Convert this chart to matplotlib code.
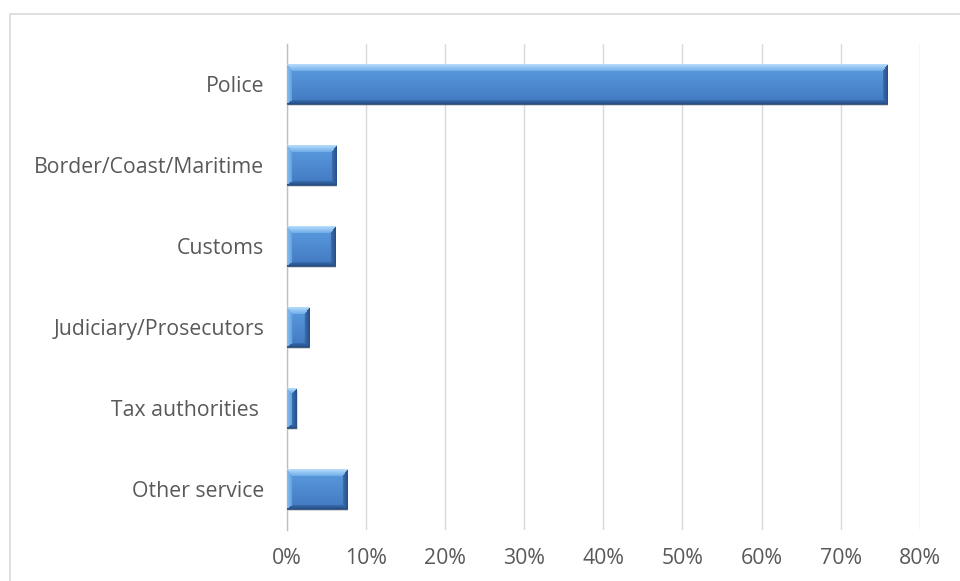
import numpy as np
import matplotlib
matplotlib.use('Agg')
import matplotlib.pyplot as plt
import matplotlib.transforms as mtransforms
from matplotlib.patches import Rectangle
from matplotlib.ticker import FuncFormatter

plt.rcParams['font.family'] = ['Open Sans', 'DejaVu Sans']

# shares of respondents by service (top to bottom)
services = ['Police', 'Border/Coast/Maritime', 'Customs',
            'Judiciary/Prosecutors', 'Tax authorities ', 'Other service']
shares = [0.758, 0.062, 0.061, 0.028, 0.012, 0.076]
xticks = [0, 0.1, 0.2, 0.3, 0.4, 0.5, 0.6, 0.7, 0.8]

W, H, DPI = 960, 581, 100
fig = plt.figure(figsize=(W / DPI, H / DPI), dpi=DPI)
ax = fig.add_axes([286.5 / W, 1 - 529.5 / H, (920 - 286.5) / W, (529.5 - 43.5) / H])

# light chart border (runs off the image on the right and bottom)
fig.patches.append(Rectangle((10 / W, -0.05), 1.2, 1 - 14 / H + 0.05,
                             transform=fig.transFigure, fill=False,
                             edgecolor='#d9d9d9', linewidth=1.2, zorder=0))

ypos = np.arange(len(services))[::-1]
bar_h = 0.49


def hexrgb(h):
    return np.array([int(h[i:i + 2], 16) for i in (1, 3, 5)]) / 255


def bevel_image(wpx, hpx):
    wpx = max(int(round(wpx)), 2)
    hpx = max(int(round(hpx)), 2)
    ii, jj = np.mgrid[0:hpx, 0:wpx]
    sizes = [7.0, 3.5, 5.0, 5.0]  # top, bottom, left, right bevel widths
    sizes = [min(s, wpx / 2.0) for s in sizes]
    dists = [ii, hpx - 1 - ii, jj, wpx - 1 - jj]
    rel = np.stack([d / s for d, s in zip(dists, sizes)])
    t = ii / max(hpx - 1, 1)
    c_top = hexrgb('#5c9ce0')
    c_bot = hexrgb('#4279c0')
    img = c_top * (1 - t)[..., None] + c_bot * t[..., None]
    which = rel.argmin(axis=0)
    rmin = rel.min(axis=0)
    edge = rmin < 1
    f = np.clip(rmin, 0, 1)[..., None]
    outer = [hexrgb('#b3dbfa'), hexrgb('#27508a'), hexrgb('#86bdee'), hexrgb('#29508a')]
    inner = [hexrgb('#6aa9e6'), hexrgb('#3a6dae'), hexrgb('#5c9ce0'), hexrgb('#3f72b4')]
    for k in range(4):
        m = edge & (which == k)
        mix = outer[k] * (1 - f) + inner[k] * f
        img[m] = mix[m]
    return img


ax_w_px = 920 - 286.5
ax_h_px = 529.5 - 43.5
px_per_x = ax_w_px / 0.8
px_per_y = ax_h_px / len(services)

shadow_tr = mtransforms.offset_copy(ax.transData, fig=fig, x=1.5, y=-2.5, units='dots')
for y, v in zip(ypos, shares):
    ax.barh(y, v, height=bar_h, color='#7f7f7f', alpha=0.3, linewidth=0,
            transform=shadow_tr, zorder=2)
    rect = ax.barh(y, v, height=bar_h, color='#4a86cc', edgecolor='#1f3b63',
                   linewidth=0.5, zorder=3)[0]
    img = bevel_image(v * px_per_x, bar_h * px_per_y)
    im = ax.imshow(img, extent=(0, v, y - bar_h / 2, y + bar_h / 2),
                   aspect='auto', origin='upper', zorder=3.5, interpolation='bilinear')
    im.set_clip_path(rect)

ax.set_xlim(0, 0.8)
ax.set_ylim(-0.5, len(services) - 0.5)
ax.set_yticks(ypos)
ax.set_yticklabels(services)
ax.set_xticks(xticks)
ax.xaxis.set_major_formatter(FuncFormatter(lambda v, p: f'{v * 100:.0f}%'))

ax.grid(axis='x', color='#d9d9d9', linewidth=1)
ax.set_axisbelow(True)
for s in ['top', 'right', 'bottom']:
    ax.spines[s].set_visible(False)
ax.spines['left'].set_color('#bfbfbf')
ax.spines['left'].set_linewidth(1)
ax.tick_params(axis='both', length=0, labelsize=15.3, labelcolor='#595959')
ax.tick_params(axis='x', pad=13)
ax.tick_params(axis='y', pad=16)

fig.savefig('out.png', dpi=DPI)
